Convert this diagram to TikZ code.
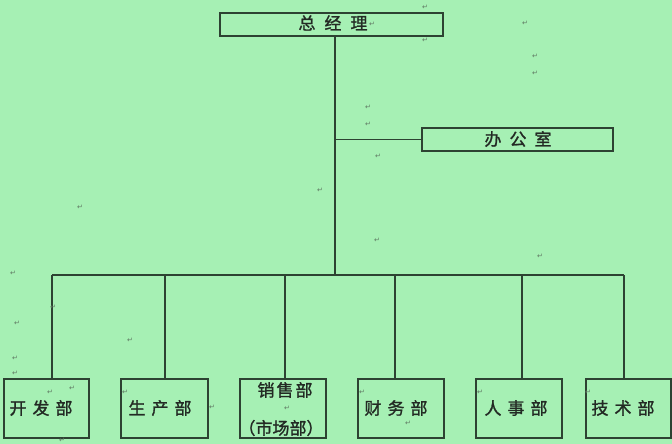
\documentclass[tikz,border=0pt]{standalone}
\usepackage{fontspec}
\newfontfamily\cjk[FakeBold=1.3]{Noto Sans CJK SC}
\newfontfamily\dejavu{DejaVu Sans}
\definecolor{bg}{RGB}{166,240,180}
\definecolor{ln}{RGB}{45,66,50}
\definecolor{tx}{RGB}{35,42,36}
\definecolor{pm}{RGB}{95,120,98}
\begin{document}
\begin{tikzpicture}[x=1pt,y=-1pt,
  box/.style={draw=ln, line width=1.8pt, inner sep=0pt, anchor=north west},
  conn/.style={draw=ln, line width=1.8pt},
  lbl/.style={font=\cjk\fontsize{17}{20}\selectfont, text=tx, inner sep=0pt},
  pmark/.style={font=\dejavu\fontsize{7}{7}\selectfont, text=pm, inner sep=0pt}]
\fill[bg] (0,0) rectangle (672,444);
\useasboundingbox (0,0) rectangle (672,444);
% boxes
\node[box, minimum width=223pt, minimum height=23pt] (gm) at (219,12) {};
\node[box, minimum width=191pt, minimum height=23pt] (off) at (421,127) {};
\node[box, minimum width=85pt, minimum height=59pt] (b1) at (3,378) {};
\node[box, minimum width=87pt, minimum height=59pt] (b2) at (120,378) {};
\node[box, minimum width=86pt, minimum height=59pt] (b3) at (239,378) {};
\node[box, minimum width=86pt, minimum height=59pt] (b4) at (357,378) {};
\node[box, minimum width=86pt, minimum height=59pt] (b5) at (475,378) {};
\node[box, minimum width=85pt, minimum height=59pt] (b6) at (585,378) {};
% labels
\node[lbl] (tgm) at (333,23) {总\hspace{9pt}经\hspace{9pt}理};
\node[lbl] (toff) at (518,139) {办\hspace{8pt}公\hspace{8pt}室};
\node[lbl] (t1) at (41,408) {开\hspace{6pt}发\hspace{6pt}部};
\node[lbl] (t2) at (160,408) {生\hspace{6pt}产\hspace{6pt}部};
\node[lbl] (t3a) at (285,390) {销\hspace{2pt}售\hspace{2pt}部};
\node[lbl] (t3b) at (281,428) {（市场部）};
\node[lbl] (t4) at (396,408) {财\hspace{6pt}务\hspace{6pt}部};
\node[lbl] (t5) at (516,408) {人\hspace{6pt}事\hspace{6pt}部};
\node[lbl] (t6) at (623,408) {技\hspace{6pt}术\hspace{6pt}部};
% connectors
\coordinate (bc) at (335,275);
\coordinate (om) at (336,141);
\draw[conn] (gm.south -| bc) -- (bc);
\draw[conn] (om |- off.west) -- (off.west);
\coordinate (d1) at (52,275);
\coordinate (d2) at (165,275);
\coordinate (d3) at (285,275);
\coordinate (d4) at (395,275);
\coordinate (d5) at (522,275);
\coordinate (d6) at (624,275);
\draw[conn] (d1) -- (d6);
\draw[conn] (d1) -- (d1 |- b1.north);
\draw[conn] (d2) -- (d2 |- b2.north);
\draw[conn] (d3) -- (d3 |- b3.north);
\draw[conn] (d4) -- (d4 |- b4.north);
\draw[conn] (d5) -- (d5 |- b5.north);
\draw[conn] (d6) -- (d6 |- b6.north);
% paragraph marks
\foreach \px/\py [count=\i] in {425/7, 372/24, 425/40, 525/23, 535/56, 535/73, 368/107, 368/124, 378/156,
  320/190, 80/207, 377/240, 540/256, 13/273, 53/307, 17/323, 130/340, 15/358, 15/373,
  50/392, 72/388, 62/440, 125/392, 212/407, 287/408, 362/392, 408/423, 480/392, 588/392}
  \node[pmark] (pm\i) at (\px,\py) {↵};
\end{tikzpicture}
\end{document}
